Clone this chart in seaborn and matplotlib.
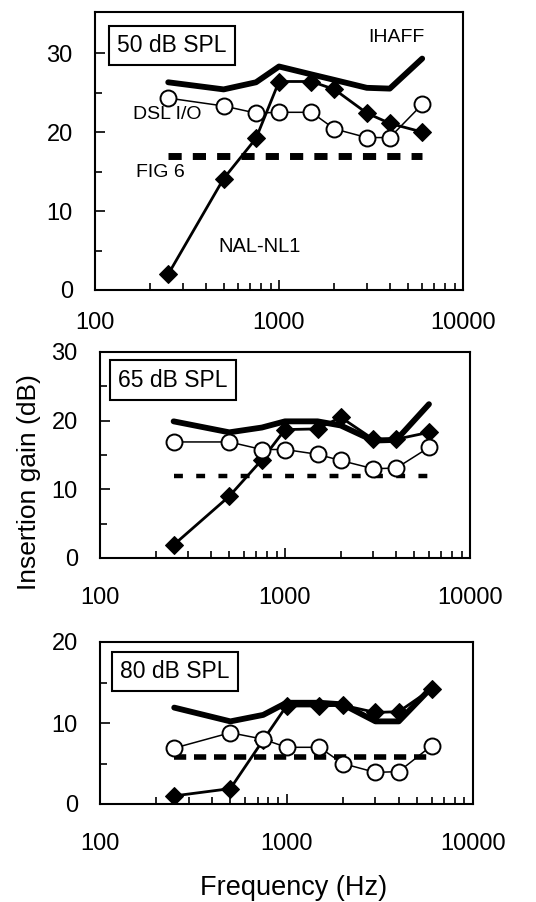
import matplotlib
matplotlib.use("Agg")
import matplotlib.pyplot as plt
import matplotlib.ticker as mticker
import seaborn as sns
import pandas as pd

# ---- data ----
freqs = [250, 500, 750, 1000, 1500, 2000, 3000, 4000, 6000]

ihaff_50 = [26.3, 25.4, 26.3, 28.3, 27.3, 26.6, 25.6, 25.5, 29.3]
dsl_50 = [24.3, 23.3, 22.4, 22.5, 22.5, 20.4, 19.3, 19.3, 23.5]
nal_50 = [2.0, 14.1, 19.2, 26.4, 26.4, 25.4, 22.4, 21.1, 20.0]
fig6_50 = [17.0] * 9

ihaff_65 = [19.9, 18.3, 19.0, 19.9, 19.9, 19.3, 17.1, 17.2, 22.4]
dsl_65 = [16.9, 16.9, 15.8, 15.8, 15.1, 14.2, 13.0, 13.1, 16.1]
nal_65 = [1.9, 9.0, 14.3, 18.7, 18.8, 20.5, 17.3, 17.3, 18.3]
fig6_65 = [12.0] * 9

ihaff_80 = [11.9, 10.2, 11.0, 12.5, 12.5, 12.3, 10.2, 10.2, 14.4]
dsl_80 = [6.9, 8.8, 8.0, 7.0, 7.0, 5.0, 3.9, 4.0, 7.2]
nal_80 = [1.0, 1.9, 7.9, 12.1, 12.1, 12.2, 11.3, 11.4, 14.2]
fig6_80 = [5.8] * 9

panel_titles = ["50 dB SPL", "65 dB SPL", "80 dB SPL"]
ylims = [35.2, 30, 20]
xtick_vals = [100, 1000, 10000]
xtick_labels = ["100", "1000", "10000"]

sns.set_theme(style="ticks")
plt.rcParams["font.family"] = ["Liberation Sans", "DejaVu Sans"]
plt.rcParams["text.color"] = "black"
plt.rcParams["axes.labelcolor"] = "black"
plt.rcParams["xtick.color"] = "black"
plt.rcParams["ytick.color"] = "black"

fig = plt.figure(figsize=(5.36, 9.02), dpi=100)

rects = [
    [95 / 536, 1 - 290 / 902, 368 / 536, 278 / 902],
    [100 / 536, 1 - 558 / 902, 370 / 536, 206 / 902],
    [100 / 536, 1 - 804 / 902, 373 / 536, 162 / 902],
]

panels = [
    (ihaff_50, dsl_50, nal_50, fig6_50),
    (ihaff_65, dsl_65, nal_65, fig6_65),
    (ihaff_80, dsl_80, nal_80, fig6_80),
]

dash_specs = [((0, (1.9, 1.6)), 5.0), ((0, (2.0, 3.0)), 3.2), ((0, (2.2, 1.4)), 4.0)]
box_pos = [(0.06, 0.88), (0.05, 0.864), (0.054, 0.82)]
xpads = [16, 21, 21]
minor_y = [[5, 15, 25], [5, 15, 25], [5, 15]]

axes = []
for i, (rect, (ih, dsl, nal, f6)) in enumerate(zip(rects, panels)):
    ax = fig.add_axes(rect)
    axes.append(ax)
    df = pd.DataFrame({"freq": freqs, "ihaff": ih, "dsl": dsl, "nal": nal, "fig6": f6})

    ls, lw = dash_specs[i]
    sns.lineplot(data=df, x="freq", y="fig6", ax=ax, color="black", lw=lw,
                 linestyle=ls, estimator=None, legend=False, zorder=2)
    sns.lineplot(data=df, x="freq", y="nal", ax=ax, color="black", lw=2.0,
                 marker="D", markersize=9, markeredgecolor="black",
                 markerfacecolor="black", estimator=None, legend=False, zorder=3)
    sns.lineplot(data=df, x="freq", y="ihaff", ax=ax, color="black", lw=4.2,
                 estimator=None, legend=False, zorder=4)
    sns.lineplot(data=df, x="freq", y="dsl", ax=ax, color="black", lw=1.1,
                 marker="o", markersize=11.5, markeredgecolor="black",
                 markerfacecolor="white", markeredgewidth=1.4,
                 estimator=None, legend=False, zorder=5)

    ax.set_xscale("log")
    ax.set_xlim(100, 10000)
    ax.set_ylim(0, ylims[i])
    ax.set_xticks(xtick_vals)
    ax.set_xticklabels(xtick_labels)
    ax.xaxis.set_minor_locator(mticker.LogLocator(base=10, subs=range(2, 10)))
    ax.xaxis.set_minor_formatter(mticker.NullFormatter())
    ax.set_yticks(range(0, int(ylims[i]) + 1, 10))
    ax.yaxis.set_minor_locator(mticker.FixedLocator(minor_y[i]))
    ax.tick_params(axis="both", which="major", direction="in", length=7, width=1.2,
                   labelsize=17, colors="black")
    ax.tick_params(axis="both", which="minor", direction="in", length=5, width=1.2)
    ax.tick_params(axis="x", which="both", pad=xpads[i])
    ax.tick_params(axis="y", which="both", pad=16)
    ax.tick_params(top=False, right=False, which="both")
    for s in ax.spines.values():
        s.set_linewidth(1.5)
        s.set_color("black")
    ax.set_xlabel("")
    ax.set_ylabel("")
    ax.text(box_pos[i][0], box_pos[i][1], panel_titles[i], transform=ax.transAxes,
            fontsize=16.5, ha="left", va="center", color="black",
            bbox=dict(boxstyle="square,pad=0.35", fc="white", ec="black", lw=1.5))

# series labels in the top panel
a0 = axes[0]
a0.text(0.82, 0.91, "IHAFF", transform=a0.transAxes, fontsize=14, ha="center", va="center")
a0.text(0.196, 0.63, "DSL I/O", transform=a0.transAxes, fontsize=14, ha="center", va="center")
a0.text(0.177, 0.424, "FIG 6", transform=a0.transAxes, fontsize=14, ha="center", va="center")
a0.text(0.448, 0.155, "NAL-NL1", transform=a0.transAxes, fontsize=14.5, ha="center", va="center")

fig.text(29 / 536, 1 - 482 / 902, "Insertion gain (dB)", rotation=90, fontsize=19,
         ha="center", va="center")
fig.text(294 / 536, 1 - 888 / 902, "Frequency (Hz)", fontsize=19.5,
         ha="center", va="center")

fig.savefig("out.png", dpi=100, facecolor="white")
